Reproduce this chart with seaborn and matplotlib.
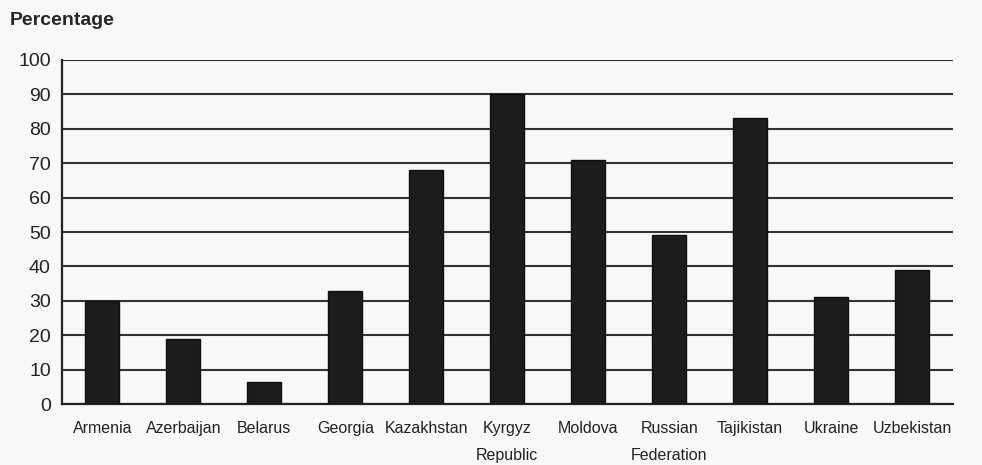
import numpy as np
import pandas as pd
import seaborn as sns
import matplotlib.pyplot as plt

# values
countries = ['Armenia', 'Azerbaijan', 'Belarus', 'Georgia', 'Kazakhstan', 'Kyrgyz\nRepublic',
             'Moldova', 'Russian\nFederation', 'Tajikistan', 'Ukraine', 'Uzbekistan']
percentage = [30, 19, 6.5, 33, 68, 90, 71, 49, 83, 31, 39]
y_ticks = list(range(0, 101, 10))

df = pd.DataFrame({'country': countries, 'pct': percentage})

sns.set_theme(style='white')
plt.rcParams['font.family'] = ['Liberation Sans', 'DejaVu Sans']

fig = plt.figure(figsize=(9.82, 4.65), dpi=100, facecolor='#f8f8f8')
ax = fig.add_axes([0.063, 0.131, 0.907, 0.740])
ax.set_facecolor('#f8f8f8')

sns.barplot(data=df, x='country', y='pct', color='#1c1c1c', width=0.42,
            edgecolor='#101010', linewidth=1, saturation=1, ax=ax, zorder=3)

ax.set_ylim(0, 100)
ax.set_xlim(-0.5, len(countries) - 0.5)
ax.set_yticks(y_ticks)
ax.set_yticklabels([str(t) for t in y_ticks], fontsize=14, color='#222222')
ax.yaxis.grid(True, color='#333333', linewidth=1.5, zorder=0)
ax.set_axisbelow(True)

# ticks between categories on x axis
ax.set_xticks(np.arange(len(countries)))
ax.set_xticklabels(countries, fontsize=11.5, linespacing=2.0, va='top', color='#222222')
ax.set_xticks(np.arange(len(countries) + 1) - 0.5, minor=True)
ax.tick_params(axis='x', which='major', length=0, pad=12)
ax.tick_params(axis='x', which='minor', length=4, width=1.2, color='#222222', direction='out')
ax.tick_params(axis='y', length=5, width=1.2, color='#222222', direction='out', pad=3)

for s in ['top', 'right']:
    ax.spines[s].set_visible(False)
for s in ['left', 'bottom']:
    ax.spines[s].set_color('#222222')
    ax.spines[s].set_linewidth(1.6)

ax.set_xlabel('')
ax.set_ylabel('')
fig.text(0.01, 0.955, 'Percentage', fontsize=14, fontweight='bold', ha='left', va='center')

fig.savefig('out.png', dpi=100, facecolor=fig.get_facecolor())
